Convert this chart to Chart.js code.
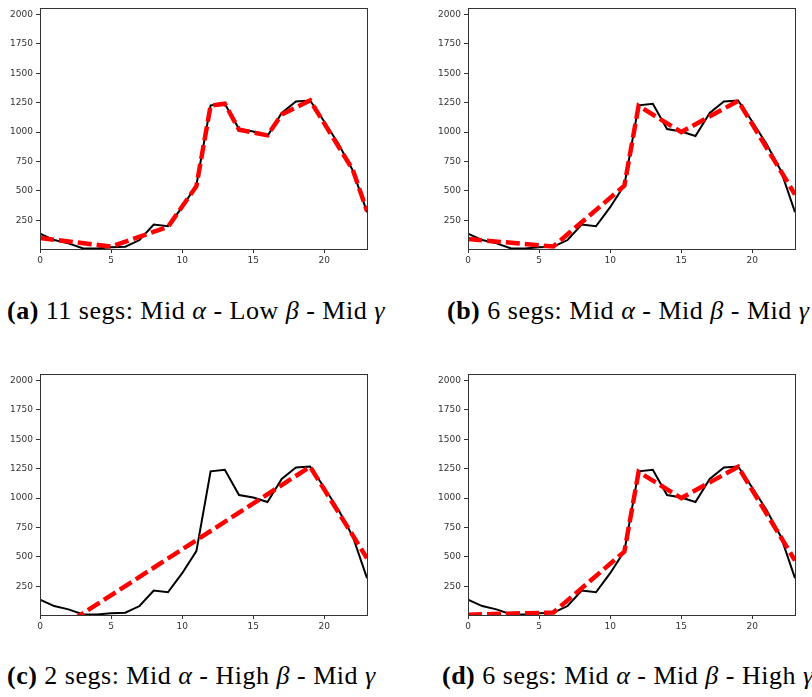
<!DOCTYPE html>
<html>
<head>
<meta charset="utf-8">
<script src="https://cdn.jsdelivr.net/npm/chart.js@4.4.0/dist/chart.umd.min.js"></script>
<style>
body{margin:0;background:#fff;width:812px;height:697px;position:relative;overflow:hidden}
.painel{position:absolute}
.legenda{position:absolute;font-family:"Liberation Serif",serif;font-size:26px;letter-spacing:0.5px;color:#000;white-space:nowrap;line-height:1}
.legenda i{font-style:italic}
</style>
</head>
<body>
<div class="painel" style="left:0;top:0;width:400px;height:270px"><canvas id="grafA"></canvas></div>
<div class="painel" style="left:428px;top:0;width:384px;height:270px"><canvas id="grafB"></canvas></div>
<div class="painel" style="left:0;top:366px;width:400px;height:270px"><canvas id="grafC"></canvas></div>
<div class="painel" style="left:428px;top:366px;width:384px;height:270px"><canvas id="grafD"></canvas></div>

<div class="legenda" style="left:7px;top:298px"><b>(a)</b> 11 segs: Mid <i>α</i> - Low <i>β</i> - Mid <i>γ</i></div>
<div class="legenda" style="left:447px;top:298px"><b>(b)</b> 6 segs: Mid <i>α</i> - Mid <i>β</i> - Mid <i>γ</i></div>
<div class="legenda" style="left:7px;top:663px"><b>(c)</b> 2 segs: Mid <i>α</i> - High <i>β</i> - Mid <i>γ</i></div>
<div class="legenda" style="left:442px;top:663px"><b>(d)</b> 6 segs: Mid <i>α</i> - Mid <i>β</i> - High <i>γ</i></div>

<script>
// dados observados (hora x contagem)
var horas = [0,1,2,3,4,5,6,7,8,9,10,11,12,13,14,15,16,17,18,19,20,21,22,23]
var contagem = [138,83,55,13,12,21,27,83,214,200,362,550,1227,1240,1026,1004,967,1163,1260,1268,1087,898,674,320]

// ajustes segmentados (pontos de quebra)
var quebrasA = [0,5,9,11,12,13,14,16,17,19,22,23]
var ajusteA = [100,28,195,540,1225,1240,1020,972,1150,1268,680,330]
var quebrasB = [0,6,11,12,15,19,23]
var ajusteB = [92,28,545,1222,1000,1265,470]
var quebrasC = [0,19,23]
var ajusteC = [-215,1266,488]
var quebrasD = [0,6,11,12,15,19,23]
var ajusteD = [10,28,545,1222,1000,1265,470]

var ticksX = [0,5,10,15,20]
var ticksY = [250,500,750,1000,1250,1500,1750,2000]

/**
 * @description: desenha a moldura completa do eixo
 */
var moldura = {
    id: 'moldura',
    afterDraw: function(chart){
        var a = chart.chartArea
        var ctx = chart.ctx
        ctx.save()
        ctx.strokeStyle = '#333'
        ctx.lineWidth = 1
        ctx.strokeRect(Math.round(a.left) + 0.5, Math.round(a.top) + 0.5, Math.round(a.right - a.left), Math.round(a.bottom - a.top))
        ctx.restore()
    }
}

function pontos(xs, ys){
    return xs.map(function(x, i){ return {x: x, y: ys[i]} })
}

/**
 * @description: monta um painel com dados e ajuste
 * @params: id do canvas, quebras, ajuste, padding direito, altura eixo x
 */
function gerarPainel(id, quebras, ajuste, dir, altX){
    var fonteTick = {family: 'DejaVu Sans', size: 9}
    var rotulo = function(v){ return String(v) }
    new Chart(document.getElementById(id).getContext('2d'), {
        type: 'line',
        data: {
            datasets: [
                {
                    data: pontos(quebras, ajuste),
                    borderColor: '#ff0000',
                    borderWidth: 4.5,
                    borderDash: [14, 5],
                    pointRadius: 0,
                    tension: 0
                },
                {
                    data: pontos(horas, contagem),
                    borderColor: '#000',
                    borderWidth: 2,
                    pointRadius: 0,
                    tension: 0
                }
            ]
        },
        options: {
            responsive: true,
            maintainAspectRatio: false,
            animation: false,
            layout: {padding: {left: 0, top: 5, right: dir, bottom: 0}},
            plugins: {legend: {display: false}, tooltip: {enabled: false}},
            scales: {
                x: {
                    type: 'linear',
                    min: 0,
                    max: 23,
                    afterBuildTicks: function(s){ s.ticks = ticksX.map(function(v){ return {value: v} }) },
                    afterFit: function(s){ s.height = altX },
                    ticks: {font: fonteTick, color: '#333', padding: 2, maxRotation: 0, autoSkip: false, callback: rotulo},
                    grid: {display: true, drawOnChartArea: false, drawTicks: true, tickLength: 4, color: '#333'},
                    border: {display: true, color: '#333'}
                },
                y: {
                    min: 7,
                    max: 2050,
                    afterBuildTicks: function(s){ s.ticks = ticksY.map(function(v){ return {value: v} }) },
                    afterFit: function(s){ s.width = 40 },
                    ticks: {font: fonteTick, color: '#333', padding: 3, autoSkip: false, callback: rotulo},
                    grid: {display: true, drawOnChartArea: false, drawTicks: true, tickLength: 4, color: '#333'},
                    border: {display: true, color: '#333'}
                }
            }
        },
        plugins: [moldura]
    })
}

gerarPainel('grafA', quebrasA, ajusteA, 33, 21)
gerarPainel('grafB', quebrasB, ajusteB, 17, 21)
gerarPainel('grafC', quebrasC, ajusteC, 33, 21)
gerarPainel('grafD', quebrasD, ajusteD, 17, 21)
</script>
</body>
</html>
